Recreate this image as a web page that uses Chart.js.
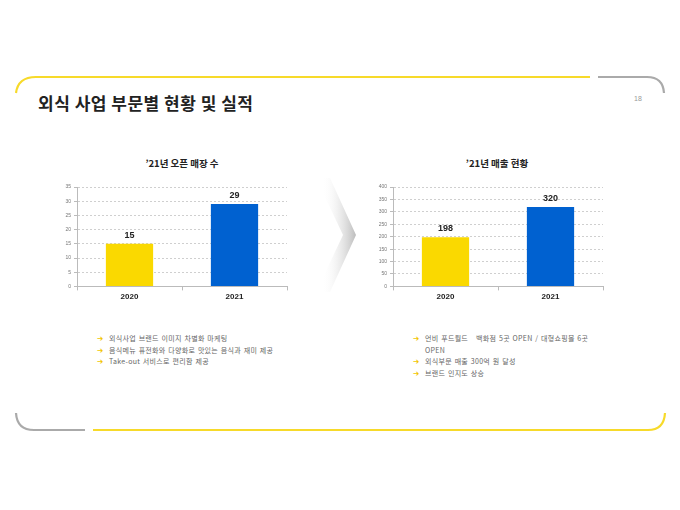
<!DOCTYPE html>
<html>
<head>
<meta charset="utf-8">
<script src="https://cdn.jsdelivr.net/npm/chart.js@4"></script>
<style>
  body { margin: 0; background: #fff; }
  #page { position: relative; width: 680px; height: 510px; overflow: hidden; font-family: "Noto Sans CJK KR", sans-serif; }
  .title { position: absolute; left: 38px; top: 90px; font-size: 17px; font-weight: bold; color: #222; letter-spacing: 0.5px; }
  .pageno { position: absolute; left: 634px; top: 95px; font-size: 7px; color: #999; font-family: "Liberation Sans", sans-serif; }
  .ctitle { position: absolute; top: 156px; width: 200px; margin-left: -100px; text-align: center; font-size: 9.5px; font-weight: bold; color: #222; }
  .chart { position: absolute; }
  ul { position: absolute; margin: 0; padding: 0; list-style: none; font-size: 7px; color: #666; letter-spacing: 0.3px; word-spacing: 0.8px; white-space: nowrap; }
  li { line-height: 11.5px; padding-left: 12px; position: relative; }
  li:before { content: "\2794"; position: absolute; left: 0; top: 0; color: #f2c500; font-family: "DejaVu Sans"; font-size: 7.5px; font-weight: bold; }
</style>
</head>
<body>
<div id="page">
  <svg width="680" height="510" style="position:absolute;left:0;top:0">
    <defs>
      <linearGradient id="chev" x1="322" y1="0" x2="356" y2="0" gradientUnits="userSpaceOnUse">
        <stop offset="0" stop-color="#ffffff" stop-opacity="0"/>
        <stop offset="1" stop-color="#bcbcbc"/>
      </linearGradient>
    </defs>
    <path d="M16 93 Q18 77 36 77 L590 77" fill="none" stroke="#f7da2a" stroke-width="2.2"/>
    <path d="M598 77 L647 77 Q663 77 664 93" fill="none" stroke="#aaaaaa" stroke-width="2.2"/>
    <path d="M16 413 Q17 430 34 430 L85 430" fill="none" stroke="#aaaaaa" stroke-width="2.2"/>
    <path d="M93 430 L648 430 Q664 430 665 413" fill="none" stroke="#f7da2a" stroke-width="2.2"/>
    <polygon points="316,178 330,178 356,235 330,292 316,292 343,235" fill="url(#chev)"/>
  </svg>
  <div class="title">외식 사업 부문별 현황 및 실적</div>
  <div class="pageno">18</div>
  <div class="ctitle" style="left:182px">&#8217;21년 오픈 매장 수</div>
  <div class="ctitle" style="left:497px">&#8217;21년 매출 현황</div>
  <div class="chart" style="left:50px;top:148px;width:245px;height:156px"><canvas id="c1"></canvas></div>
  <div class="chart" style="left:366px;top:148px;width:245px;height:156px"><canvas id="c2"></canvas></div>
  <ul style="left:97px;top:333px">
    <li>외식사업 브랜드 이미지 차별화 마케팅</li>
    <li>음식메뉴 퓨전화와 다양화로 맛있는 음식과 재미 제공</li>
    <li>Take-out 서비스로 편리함 제공</li>
  </ul>
  <ul style="left:413px;top:333px">
    <li>언비 푸드월드 &nbsp;&nbsp;백화점 5곳 OPEN / 대형쇼핑몰 6곳<br>OPEN</li>
    <li>외식부문 매출 300억 원 달성</li>
    <li>브랜드 인지도 상승</li>
  </ul>
</div>
<script>
var categories = ['2020', '2021'];
var storeCounts = [15, 29];
var salesValues = [198, 320];
var barColors = ['#fad900', '#0061d0'];

var valueLabels = {
  id: 'valueLabels',
  afterDatasetsDraw: function (chart) {
    var ctx = chart.ctx;
    var meta = chart.getDatasetMeta(0);
    ctx.save();
    ctx.font = 'bold 9px "Liberation Sans", sans-serif';
    ctx.fillStyle = '#222';
    ctx.textAlign = 'center';
    ctx.textBaseline = 'bottom';
    meta.data.forEach(function (bar, i) {
      ctx.fillText(chart.data.datasets[0].data[i], bar.x, bar.y - 4);
    });
    ctx.restore();
  }
};

function makeChart(id, values, max, step) {
  var ctx = document.getElementById(id).getContext('2d');
  return new Chart(ctx, {
    type: 'bar',
    data: {
      labels: categories,
      datasets: [{
        data: values,
        backgroundColor: barColors,
        barPercentage: 0.45,
        categoryPercentage: 1
      }]
    },
    options: {
      responsive: true,
      maintainAspectRatio: false,
      animation: false,
      layout: { padding: { top: 39, right: 8, left: 4 } },
      plugins: {
        legend: { display: false },
        tooltip: { enabled: false },
        title: { display: false }
      },
      scales: {
        x: {
          grid: { display: true, drawOnChartArea: false, drawTicks: true, tickLength: 4, color: '#bbb', offset: true },
          border: { color: '#bbb' },
          ticks: { color: '#222', font: { family: '"Liberation Sans"', size: 8, weight: 'bold' }, padding: 2 }
        },
        y: {
          min: 0,
          max: max,
          afterFit: function (s) { s.width = 23; },
          grid: { color: '#cfcfcf', tickLength: 3, tickColor: '#bbb' },
          border: { color: '#bbb', dash: [2, 2] },
          ticks: { stepSize: step, color: '#777', font: { family: '"Liberation Sans"', size: 5 }, padding: 3 }
        }
      }
    },
    plugins: [valueLabels]
  });
}

makeChart('c1', storeCounts, 35, 5);
makeChart('c2', salesValues, 400, 50);
</script>
</body>
</html>
